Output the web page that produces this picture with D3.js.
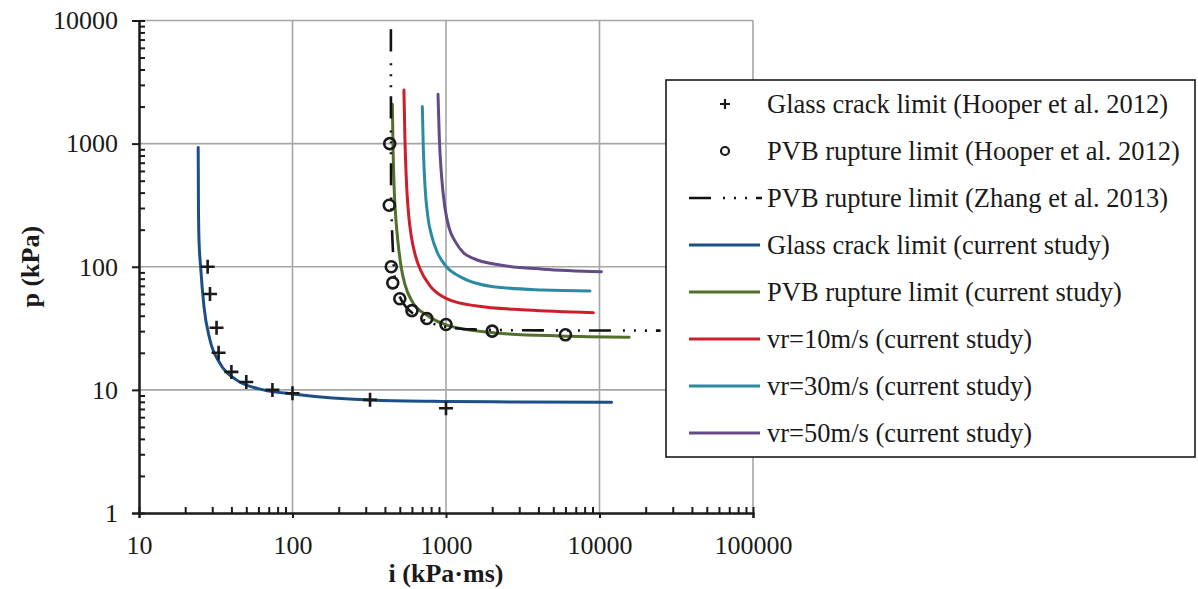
<!DOCTYPE html>
<html>
<head>
<meta charset="utf-8">
<script src="https://cdn.jsdelivr.net/npm/d3@7/dist/d3.min.js"></script>
<style>
  html, body { margin: 0; padding: 0; background: #fff; }
  svg, svg text { font-family: "Liberation Serif", "DejaVu Serif", "Times New Roman", Times, serif !important; }
</style>
</head>
<body>
<svg id="chart" width="1198" height="589"></svg>
<script>
// Axis ticks
const xTicks = [10, 100, 1000, 10000, 100000];
const yTicks = [1, 10, 100, 1000, 10000];

// Glass crack limit, Hooper et al. 2012 (crosses)
const crackI = [28, 29, 32, 33, 40, 50, 74, 100, 320, 1000];
const crackP = [100, 60, 32, 20, 14, 11.6, 10, 9.4, 8.3, 7.1];

// PVB rupture limit, Hooper et al. 2012 (circles)
const ruptureI = [430, 427, 440, 450, 500, 600, 750, 1000, 2000, 6000];
const ruptureP = [1000, 316, 100, 74, 55, 44, 38, 34, 30, 28];

// PVB rupture limit, Zhang et al. 2013
const zhangI = [437.5, 438, 439, 445, 452, 460, 475, 500, 550, 620, 750, 1000, 1500, 3000, 25000];
const zhangP = [8500, 1000, 400, 200, 130, 90, 70, 57, 47, 41, 36, 32.5, 31, 30.5, 30.3];

// Glass crack limit (current study)
const glassI = [24.3, 24.4, 24.6, 25.2, 26.5, 29.0, 33.7, 43.3, 64.6, 100, 353, 1000, 3000, 12000];
const glassP = [930, 300, 165, 100, 47.4, 25.4, 16.4, 12.0, 10.0, 9.26, 8.23, 8.05, 7.97, 7.93];

// PVB rupture limit (current study)
const pvbI = [447, 452, 460, 472, 489, 510, 540, 612, 748, 1000, 2030, 5530, 15600];
const pvbP = [2090, 900, 420, 240, 150, 100, 72, 50.5, 40.6, 33.7, 29.1, 27.4, 26.8];

// vr = 10 m/s
const vr10I = [532, 540, 552, 570, 595, 630, 680, 787, 1000, 1585, 3360, 9120];
const vr10P = [2730, 1100, 500, 270, 175, 125, 95, 70, 55.4, 48.0, 44.6, 42.4];

// vr = 30 m/s
const vr30I = [701, 712, 730, 760, 810, 880, 1000, 1233, 2030, 4300, 8670];
const vr30P = [2000, 900, 450, 260, 175, 130, 100.9, 83.1, 68.9, 64.8, 63.6];

// vr = 50 m/s
const vr50I = [887, 905, 935, 985, 1050, 1150, 1300, 1506, 2250, 4300, 10300];
const vr50P = [2520, 1100, 550, 300, 205, 160, 130, 117, 103.4, 95.5, 91.2];

const legendLabels = [
  "Glass crack limit (Hooper et al. 2012)",
  "PVB rupture limit (Hooper et al. 2012)",
  "PVB rupture limit (Zhang et al. 2013)",
  "Glass crack limit (current study)",
  "PVB rupture limit (current study)",
  "vr=10m/s (current study)",
  "vr=30m/s (current study)",
  "vr=50m/s (current study)"
];

const zip = (a, b) => a.map((v, i) => [v, b[i]]);
const FONT = "Liberation Serif, DejaVu Serif, Times New Roman, serif";

const svg = d3.select("#chart");
const x = d3.scaleLog().domain([10, 100000]).range([139, 753]);
const y = d3.scaleLog().domain([1, 10000]).range([513, 20.5]);

const gridColor = "#a6a6a6";
const fmt = d => String(d);

// Minor tick values (2..9 within each decade)
function minorTicks(lo, hi) {
  const out = [];
  for (let d = lo; d < hi; d *= 10)
    for (let k = 2; k <= 9; k++) out.push(d * k);
  return out;
}

// Grid lines
const grid = svg.append("g");
grid.selectAll("line.gx").data(xTicks.slice(1)).join("line")
  .attr("x1", d => x(d)).attr("x2", d => x(d))
  .attr("y1", y(1)).attr("y2", y(10000))
  .attr("stroke", gridColor).attr("stroke-width", 1.6);
grid.selectAll("line.gy").data(yTicks.slice(1)).join("line")
  .attr("y1", d => y(d)).attr("y2", d => y(d))
  .attr("x1", x(10)).attr("x2", x(100000))
  .attr("stroke", gridColor).attr("stroke-width", 1.6);

// Curves
const line = d3.line().x(d => x(d[0])).y(d => y(d[1])).curve(d3.curveMonotoneX);

const curves = [
  { data: zip(glassI, glassP), color: "#1c4f8a" },
  { data: zip(vr50I, vr50P), color: "#634a88" },
  { data: zip(vr30I, vr30P), color: "#2d8aa3" },
  { data: zip(vr10I, vr10P), color: "#cc1f2b" },
  { data: zip(pvbI, pvbP), color: "#50702c" }
];
const zhangDash = "22,12,2,9,2,9,2,9";

svg.append("g").selectAll("path").data(curves).join("path")
  .attr("d", d => line(d.data))
  .attr("fill", "none").attr("stroke", d => d.color)
  .attr("stroke-width", 3).attr("stroke-linecap", "round");

svg.append("path")
  .attr("d", line(zip(zhangI, zhangP)))
  .attr("fill", "none").attr("stroke", "#111")
  .attr("stroke-width", 2.6).attr("stroke-dasharray", zhangDash);

// Markers
const crossSize = 7;
svg.append("g").selectAll("path").data(zip(crackI, crackP)).join("path")
  .attr("d", d => {
    const cx = x(d[0]), cy = y(d[1]);
    return `M${cx - crossSize},${cy}H${cx + crossSize}M${cx},${cy - crossSize}V${cy + crossSize}`;
  })
  .attr("stroke", "#1a1a1a").attr("stroke-width", 2.6).attr("fill", "none");

svg.append("g").selectAll("circle").data(zip(ruptureI, ruptureP)).join("circle")
  .attr("cx", d => x(d[0])).attr("cy", d => y(d[1])).attr("r", 5.5)
  .attr("fill", "none").attr("stroke", "#1a1a1a").attr("stroke-width", 2.6);

// Axes
const axisColor = "#1a1a1a";
const xAxis = svg.append("g").attr("transform", `translate(0,${y(1)})`)
  .call(d3.axisBottom(x).tickValues(xTicks).tickFormat(fmt).tickSize(5).tickPadding(18));
const xMinor = svg.append("g").attr("transform", `translate(0,${y(1)})`)
  .call(d3.axisBottom(x).tickValues(minorTicks(10, 100000)).tickFormat("").tickSize(-6));
const yAxis = svg.append("g").attr("transform", `translate(${x(10)},0)`)
  .call(d3.axisLeft(y).tickValues(yTicks).tickFormat(fmt).tickSize(7).tickPadding(14));
const yMinor = svg.append("g").attr("transform", `translate(${x(10)},0)`)
  .call(d3.axisLeft(y).tickValues(minorTicks(1, 10000)).tickFormat("").tickSize(-6));

[xAxis, xMinor, yAxis, yMinor].forEach(g => {
  g.attr("font-family", FONT);
  g.select(".domain").attr("stroke", axisColor).attr("stroke-width", 2);
  g.selectAll(".tick line").attr("stroke", axisColor).attr("stroke-width", 2);
  g.selectAll("text").attr("fill", "#1a1a1a").attr("font-size", 26)
    .attr("font-family", FONT);
});
xAxis.selectAll("text").attr("dy", "0.71em");

// Axis titles
svg.append("text").attr("x", x(1000)).attr("y", 582)
  .attr("text-anchor", "middle").attr("font-weight", "bold").attr("font-size", 26)
  .attr("font-family", FONT).attr("fill", "#1a1a1a").text("i (kPa·ms)");
svg.append("text").attr("transform", `translate(39,${y(100)}) rotate(-90)`)
  .attr("text-anchor", "middle").attr("font-weight", "bold").attr("font-size", 26)
  .attr("font-family", FONT).attr("fill", "#1a1a1a").text("p (kPa)");

// Legend
const lg = svg.append("g").attr("font-family", FONT);
lg.append("rect").attr("x", 666).attr("y", 80).attr("width", 529).attr("height", 377)
  .attr("fill", "#fff").attr("stroke", "#1a1a1a").attr("stroke-width", 1.6);

const legendKinds = ["cross", "circle", "zhang", "#1c4f8a", "#50702c", "#cc1f2b", "#2d8aa3", "#634a88"];
const rowY = i => 104 + i * 47;
legendKinds.forEach((k, i) => {
  const cy = rowY(i);
  if (k === "cross") {
    lg.append("path").attr("d", `M${725 - 5},${cy}H${725 + 5}M725,${cy - 5}V${cy + 5}`)
      .attr("stroke", "#1a1a1a").attr("stroke-width", 2.2);
  } else if (k === "circle") {
    lg.append("circle").attr("cx", 725).attr("cy", cy).attr("r", 4)
      .attr("fill", "none").attr("stroke", "#1a1a1a").attr("stroke-width", 2.2);
  } else if (k === "zhang") {
    lg.append("line").attr("x1", 689).attr("x2", 762).attr("y1", cy).attr("y2", cy)
      .attr("stroke", "#111").attr("stroke-width", 2.6).attr("stroke-dasharray", zhangDash);
  } else {
    lg.append("line").attr("x1", 689).attr("x2", 760).attr("y1", cy).attr("y2", cy)
      .attr("stroke", k).attr("stroke-width", 3);
  }
  lg.append("text").attr("x", 767).attr("y", cy).attr("dy", "0.33em")
    .attr("font-size", 26.5).attr("font-family", FONT)
    .attr("fill", "#1a1a1a").text(legendLabels[i]);
});
</script>
</body>
</html>
